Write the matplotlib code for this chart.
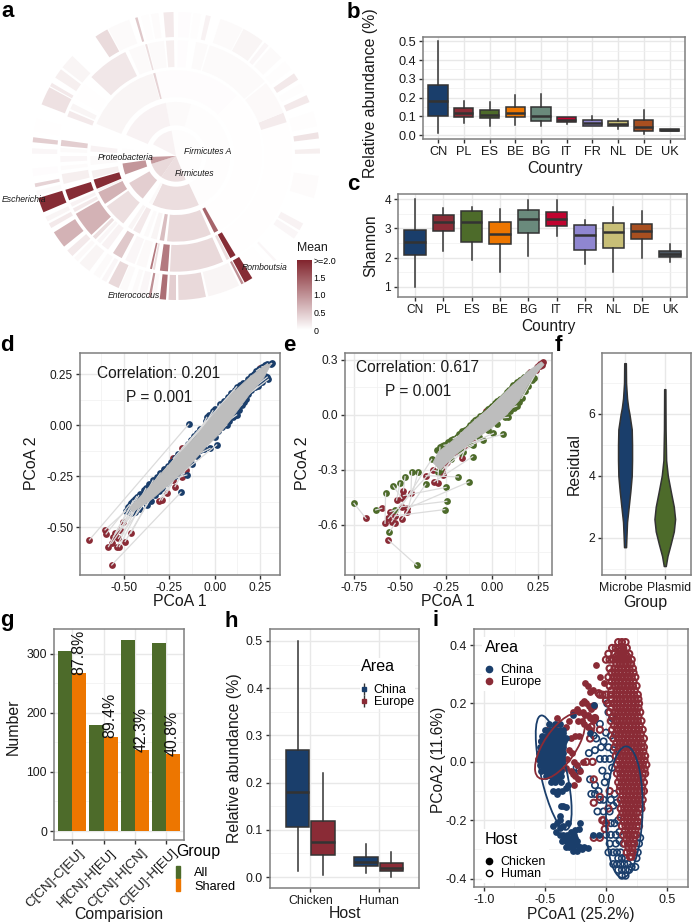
import numpy as np
import matplotlib
matplotlib.use('Agg')
import matplotlib.pyplot as plt
from matplotlib.colors import LinearSegmentedColormap
from matplotlib.lines import Line2D
from matplotlib.patches import Ellipse, Patch
from matplotlib.ticker import AutoMinorLocator
from matplotlib.transforms import ScaledTranslation

plt.rcParams['font.family'] = ['Liberation Sans', 'DejaVu Sans']
plt.rcParams['axes.unicode_minus'] = False

W, H = 692, 924
NAVY, RED, GREEN, ORANGE = '#1a3e6b', '#8a2b36', '#4d6b2a', '#ed7600'
TEAL, CRIMSON, LAV, KHAKI, RUST, SLATE = '#6a8a7c', '#c0032f', '#8f86d0', '#c8bf77', '#a84f20', '#4a5560'
DARK = '#333333'

# panel a: (start deg, end deg, mean) for each ring, counter-clockwise from east
ring_radii = [(0, 77), (92, 162), (177, 257), (267, 347), (357, 432)]
ring1 = [(-68, 100, 0.02), (-125, -68, 0.3), (-162, -125, 0.35), (-178, -162, 0.9), (100, 153, 0.12)]
ring2 = [(-65, 74, 0.02), (74, 101, 0.05), (101, 157, 0.12), (-116, -65, 0.3), (-120, -116, 0.05),
         (-150, -128, 0.45), (-172, -160, 0.95), (172, 180, 0.02)]
ring3 = [(-60, 45, 0.015), (45, 78, 0.03), (78, 104, 0.03), (104, 105.5, 0.4), (106, 158, 0.1),
         (-63.5, -60.5, 1.4), (-96, -66, 0.35), (-101, -98, 0.6), (-107, -103, 0.1), (-112, -109, 0.05),
         (-120, -115, 0.2), (-124, -121, 0.1), (-144, -128, 0.3), (-155, -146, 0.7), (-157, -155.5, 0.1),
         (-164, -157.5, 1.9), (-170, -165, 0.15), (173, 177, 0.12), (-180, -174, 0.05)]
ring4 = [(-42, 17, 0.015), (17, 22, 0.18), (22, 39, 0.06), (40, 73, 0.05), (74, 80, 0.05), (84, 89, 0.03),
         (91, 95, 0.15), (96, 104, 0.05), (104.5, 105.5, 0.3), (106, 114, 0.05), (116, 137, 0.22),
         (142, 150, 0.01), (153, 156, 0.1), (157, 160, 0.2), (172, 175, 0.45), (176, 178, 0.05),
         (180, 183, 0.08), (-59, -42, 0.01), (-62, -59, 1.9), (-64, -62.5, 0.3), (-93, -66, 0.35),
         (-98, -94, 1.2), (-101.5, -100.5, 0.3), (-103, -102, 1.2), (-110, -105, 0.06), (-116, -111, 0.08),
         (-123, -118, 0.5), (-130, -126, 0.12), (-133, -131, 0.08), (-136, -134, 0.3), (-150, -137, 0.7),
         (-153, -151, 0.2), (-156, -154, 0.12), (-163, -157.5, 1.9), (-171, -166, 0.15), (-175, -173, 0.04)]
ring5 = [(1, 3, 0.15), (7, 9.5, 0.25), (12, 18, 0.02), (22, 25, 0.2), (27, 30, 0.02), (32, 35, 0.2), (37, 41, 0.02),
         (43, 49, 0.05), (50, 52, 0.08), (53, 62, 0.1), (62.5, 72, 0.05), (76, 78, 0.12), (80, 83, 0.02),
         (84, 89, 0.03), (91, 95, 0.2), (97, 100, 0.04), (101, 104, 0.02), (105.5, 106.5, 0.5), (109, 118, 0.05),
         (118.5, 124, 0.33), (136, 142, 0.1), (143, 147, 0.15), (149.5, 151, 0.2), (151.5, 159, 0.28),
         (165, 170, 0.01), (172.5, 174.5, 0.45), (177, 179, 0.05), (-183, -181, 0.08), (-17, -8, 0.04),
         (-31, -28, 0.12), (-35, -32, 0.08), (-47, -46, 0.08), (-58, -50, 0.008), (-61.5, -58, 1.9),
         (-63, -62, 1.0), (-77, -64, 0.1), (-89, -78, 0.35), (-93, -90, 0.45), (-96.5, -94, 1.3),
         (-99.5, -98, 0.06), (-101, -100, 1.0), (-105, -102, 0.08), (-108, -106, 0.05), (-113, -110, 0.05),
         (-118, -113.5, 0.35), (-121, -119, 0.08), (-125, -122, 0.05), (-132, -127, 0.1), (-135, -133, 0.06),
         (-139, -136, 0.2), (-148, -141, 0.7), (-152, -150, 0.2), (-155, -153, 0.1), (-163, -157, 1.9),
         (-166, -164, 0.05), (-169, -167.5, 0.4), (-175, -172, 0.03)]
rings = [ring1, ring2, ring3, ring4, ring5]
sun_labels = ['Firmicutes A', 'Proteobacteria', 'Firmicutes', 'Escherichia', 'Romboutsia', 'Enterococcus']
sun_label_px = [(208, 151), (126, 157), (195, 174), (24, 200), (265, 267), (134, 296)]

# panels b and c: whisker low, q1, median, q3, whisker high
countries = ['CN', 'PL', 'ES', 'BE', 'BG', 'IT', 'FR', 'NL', 'DE', 'UK']
country_cols = [NAVY, RED, GREEN, ORANGE, TEAL, CRIMSON, LAV, KHAKI, RUST, SLATE]
abund_lo = [.01, .065, .05, .055, .05, .06, .05, .035, .005, .024]
abund_q1 = [.103, .095, .09, .098, .078, .07, .052, .048, .025, .024]
abund_med = [.18, .12, .11, .12, .1, .083, .066, .062, .045, .03]
abund_q3 = [.27, .145, .132, .15, .148, .095, .08, .075, .08, .036]
abund_hi = [.5, .185, .178, .213, .217, .097, .105, .085, .137, .036]
shan_lo = [1.0, 2.23, 1.9, 1.5, 2.05, 2.75, 1.77, 1.5, 2.0, 1.85]
shan_q1 = [2.09, 2.92, 2.52, 2.47, 2.83, 3.08, 2.25, 2.32, 2.64, 2.03]
shan_med = [2.55, 3.23, 3.22, 2.82, 3.33, 3.33, 2.78, 2.87, 2.9, 2.12]
shan_q3 = [2.93, 3.46, 3.6, 3.23, 3.62, 3.55, 3.13, 3.18, 3.16, 2.24]
shan_hi = [4.0, 3.7, 3.72, 3.66, 3.97, 3.97, 3.3, 3.72, 3.58, 2.47]

# panel d: procrustes pairs, same index is one sample
d_blue = [(-.143, .005), (-.186, -.329), (.011, -.097), (-.49, -.42), (-.47, -.39), (-.45, -.37), (-.43, -.35),
          (-.42, -.345), (-.38, -.31), (-.34, -.27), (-.30, -.235), (-.26, -.20), (-.22, -.16), (-.17, -.115),
          (-.13, -.075), (-.10, -.04), (-.05, .02), (-.044, .038), (-.01, .07), (.029, .103), (.075, .139),
          (.11, .17), (.121, .188), (.173, .204), (.20, .24), (.23, .265), (.26, .285), (.29, .30), (.31, .30),
          (-.46, -.43), (-.375, -.391), (-.33, -.34), (-.29, -.31), (-.22, -.25), (-.154, -.244), (-.10, -.15),
          (-.081, -.122), (-.026, -.114), (.02, -.03), (.066, 0), (.10, .04), (.121, .05), (.15, .10), (.17, .13),
          (.20, .17), (.24, .19), (.296, .224), (.29, .235), (.314, .302)]
d_red = [(-.691, -.562), (-.568, -.685), (-.16, -.22), (-.605, -.513), (-.599, -.533), (-.586, -.595), (-.55, -.53),
         (-.522, -.513), (-.54, -.595), (-.526, -.595), (-.568, -.579), (-.463, -.53), (-.494, -.57), (-.559, -.546),
         (-.531, -.554), (-.504, -.473), (-.292, -.367), (-.265, -.334), (-.305, -.37), (-.219, -.301), (-.182, -.252),
         (-.283, -.228), (-.228, -.163), (-.182, -.114), (.10, .10), (.25, .278), (.278, .289), (-.228, -.269), (.12, .12),
         (-.44, -.39), (-.42, -.37), (-.40, -.35), (-.38, -.34), (-.35, -.30), (-.33, -.29), (-.30, -.26), (-.27, -.24),
         (-.25, -.21), (-.22, -.19), (-.20, -.17), (-.17, -.14), (-.14, -.11), (-.11, -.08), (-.08, -.05), (-.05, -.03),
         (-.02, .01), (.02, .04), (.05, .07), (.09, .10)]
d_blue_edge = [(-.48, -.40), (-.46, -.38), (-.44, -.36), (-.41, -.335), (-.39, -.32), (-.36, -.29), (-.32, -.255),
               (-.28, -.215), (-.24, -.18), (-.20, -.14), (-.15, -.095), (-.115, -.055), (-.08, -.02), (-.03, .05),
               (0, .08), (.05, .12), (.09, .155), (.14, .195), (.155, .205), (.185, .225), (.215, .25), (.245, .275),
               (.275, .295), (-.44, -.425), (-.41, -.41), (-.35, -.37), (-.31, -.325), (-.26, -.285), (-.19, -.235),
               (-.125, -.19), (-.06, -.115), (0, -.06), (.04, -.01), (.08, .02), (.11, .05), (.135, .075), (.16, .115),
               (.185, .15), (.22, .185), (.26, .21), (.28, .24)]
d_band = [(-.47, -.405), (-.40, -.34), (-.30, -.24), (-.20, -.145), (-.10, -.05), (0, .06), (.10, .16), (.20, .24),
          (.28, .295), (.31, .30), (.30, .28), (.27, .23), (.20, .16), (.10, .04), (.03, -.04), (-.05, -.11),
          (-.15, -.21), (-.25, -.29), (-.35, -.365), (-.45, -.425)]

# panel e
e_green = [(-.75, -.482), (-.632, -.518), (-.578, -.427), (-.558, -.64), (-.409, -.82), (-.536, -.387), (-.50, -.369),
           (-.472, -.336), (-.436, -.309), (-.40, -.309), (-.525, -.518), (-.36, -.378), (-.327, -.242), (-.249, -.395),
           (-.245, -.471), (-.256, -.516), (-.182, -.338), (-.124, -.365), (-.104, -.227), (-.282, -.176), (-.236, -.155),
           (-.191, -.118), (-.146, -.082), (-.091, -.027), (-.037, .013), (.018, .064), (.072, .109), (.118, .164),
           (.163, .195), (.217, .191), (.063, -.104), (.009, -.10), (-.046, -.136), (.09, -.013), (.136, .049), (.163, .091),
           (-.1, -.164), (-.155, -.20), (-.291, -.309), (-.26, -.165), (-.21, -.13), (-.17, -.10), (-.12, -.055),
           (-.065, -.005), (-.01, .04), (.045, .085), (.095, .135), (.14, .18), (.19, .215)]
e_red = [(-.685, -.564), (-.599, -.509), (-.581, -.591), (-.526, -.591), (-.563, -.682), (-.49, -.455), (-.518, -.464),
         (-.481, -.413), (-.44, -.427), (-.46, -.527), (-.554, -.527), (-.49, -.569), (-.545, -.582), (-.481, -.44),
         (-.49, -.50), (-.526, -.55), (-.358, -.331), (-.46, -.51), (-.314, -.364), (-.295, -.369), (-.282, -.273),
         (-.245, -.255), (-.264, -.327), (-.164, -.236), (-.563, -.564), (-.13, -.08), (-.08, -.03), (-.03, .02),
         (.208, .236), (.245, .26), (-.10, -.15), (-.15, -.17), (-.2, -.2), (.01, -.02), (.05, .02), (.272, .282),
         (-.25, -.26), (-.27, -.3), (-.32, -.30), (-.2, -.16), (-.15, -.1), (-.1, -.07), (-.05, -.02), (0, .03),
         (.05, .06), (.1, .11), (.15, .14), (.18, .18), (.22, .22)]
e_green_edge = [(-.30, -.19), (-.27, -.17), (-.24, -.145), (-.22, -.135), (-.18, -.105), (-.16, -.09), (-.13, -.07),
                (-.10, -.04), (-.08, -.02), (-.05, 0), (-.02, .03), (0, .05), (.03, .075), (.06, .10), (.085, .125),
                (.11, .15), (.13, .17), (.155, .19), (.175, .205), (.20, .225), (-.28, -.30), (-.22, -.24),
                (-.17, -.205), (-.12, -.16), (-.07, -.12), (-.02, -.08), (.03, -.05), (.07, -.01), (.10, .02),
                (.12, .04), (.15, .07), (.18, .13), (.2, .16), (.23, .2)]
e_red_edge = [(.25, .265), (.265, .28), (.28, .29), (.275, .275), (.26, .265), (.24, .245)]
e_band = [(-.29, -.20), (-.20, -.13), (-.10, -.035), (0, .05), (.10, .15), (.20, .24), (.27, .29), (.285, .275), (.22, .20),
          (.15, .08), (.08, 0), (0, -.07), (-.10, -.14), (-.20, -.22), (-.28, -.30), (-.32, -.26)]

# panel f: violin outlines
groups = ['Microbe', 'Plasmid']
mic_y = [1.69, 2, 2.5, 3, 3.5, 4, 4.5, 5, 5.5, 6, 6.2, 6.5, 7, 7.64]
mic_w = [.025, .034, .05, .092, .134, .168, .176, .176, .168, .11, .08, .05, .025, .02]
pla_y = [1.08, 1.4, 1.8, 2.2, 2.6, 3, 3.5, 4, 4.5, 5.5, 6.8]
pla_w = [.025, .067, .15, .227, .26, .227, .15, .076, .034, .02, .015]

# panel g
comparisons = ['C[CN]-C[EU]', 'H[CN]-H[EU]', 'C[CN]-H[CN]', 'C[EU]-H[EU]']
all_counts = [304, 180, 324, 319]
shared_counts = [267, 160, 137, 130]
shared_pct = ['87.8%', '89.4%', '42.3%', '40.8%']

# panel h
hosts = ['Chicken', 'Human']
china_box = [[.012, .105, .18, .27, .5], [.008, .023, .031, .043, .07]]
europe_box = [[.005, .046, .074, .119, .22], [.001, .012, .02, .03, .053]]

# panel i
china_chicken = [(-.47, .13), (-.42, .13), (-.38, .13), (-.50, .11), (-.46, .11), (-.42, .11), (-.38, .11), (-.35, .11),
                 (-.52, .09), (-.48, .09), (-.44, .09), (-.40, .09), (-.36, .09), (-.53, .07), (-.49, .07), (-.45, .07),
                 (-.41, .07), (-.37, .07), (-.34, .07), (-.54, .05), (-.50, .05), (-.46, .05), (-.42, .05), (-.38, .05),
                 (-.35, .05), (-.55, .03), (-.51, .03), (-.47, .03), (-.43, .03), (-.39, .03), (-.35, .03), (-.55, .01),
                 (-.51, .01), (-.47, .01), (-.43, .01), (-.39, .01), (-.36, .01), (-.54, -.01), (-.50, -.01), (-.46, -.01),
                 (-.42, -.01), (-.38, -.01), (-.53, -.03), (-.49, -.03), (-.45, -.03), (-.41, -.03), (-.37, -.03),
                 (-.49, -.05), (-.45, -.05), (-.41, -.05), (-.37, -.05), (-.45, -.07), (-.42, -.07), (-.37, -.07),
                 (-.52, .02), (-.48, .02), (-.44, .02), (-.40, .02), (-.36, .02), (-.52, .04), (-.48, .04), (-.44, .04),
                 (-.40, .04), (-.36, .04), (-.51, .06), (-.47, .06), (-.43, .06), (-.39, .06), (-.35, .06), (-.49, .08),
                 (-.45, .08), (-.41, .08), (-.37, .08), (-.33, .08), (-.47, .10), (-.43, .10), (-.39, .10), (-.35, .10),
                 (-.52, 0), (-.48, 0), (-.44, 0), (-.40, 0), (-.36, 0), (-.51, -.02), (-.47, -.02), (-.43, -.02), (-.39, -.02),
                 (-.47, -.04), (-.43, -.04), (-.39, -.04), (-.43, -.06), (-.39, -.06),
                 (-.43, -.10), (-.39, -.10), (-.36, -.10), (-.33, -.09), (-.40, -.11), (-.31, -.08), (-.37, -.15),
                 (-.35, -.15), (-.33, -.155), (-.38, -.185), (-.38, -.2), (-.43, -.22), (-.40, -.21), (-.38, -.225),
                 (-.35, -.22), (-.31, -.21), (-.21, -.21), (-.22, -.23), (-.25, -.235), (-.41, -.24), (-.38, -.25),
                 (-.35, -.25), (-.32, -.25), (-.29, -.24), (-.26, -.25), (-.36, -.27), (-.33, -.27), (-.30, -.27),
                 (-.27, -.27), (-.24, -.27), (-.33, -.29), (-.30, -.29), (-.27, -.29), (-.24, -.285), (-.21, -.29),
                 (-.18, -.29), (-.15, -.295), (-.27, -.305), (-.24, -.305), (-.20, -.30), (-.11, -.25), (-.06, -.25),
                 (-.34, -.26), (-.31, -.26), (-.28, -.26), (-.25, -.26), (-.31, -.28), (-.28, -.28), (-.25, -.28),
                 (-.27, .16), (-.1, .195), (-.13, .10)]
europe_chicken = [(-.08, .33), (-.05, .29), (-.17, .27), (-.15, .26), (-.13, .24), (-.11, .245), (-.02, .27), (-.2, .2),
                  (-.18, .21), (-.16, .2), (-.14, .19), (-.12, .18), (-.24, .18), (-.22, .17), (-.19, .17), (-.17, .16),
                  (-.15, .16), (-.13, .15), (-.11, .14), (-.09, .15), (-.23, .14), (-.20, .14), (-.18, .13), (-.15, .12),
                  (-.12, .11), (-.27, .17), (-.3, .14), (-.33, .12), (-.4, .15), (-.42, .12), (-.48, .11), (-.5, .08),
                  (-.53, .07), (-.51, .05), (-.56, .01), (-.29, .08), (-.25, .09), (-.22, .09), (-.3, .04), (-.28, .03),
                  (-.32, .01), (-.26, 0), (-.24, -.01), (-.19, 0), (-.21, -.03), (-.29, -.03), (-.27, -.04), (-.23, -.06),
                  (-.26, -.08), (-.33, -.02), (-.25, -.05)]
china_human = [(.13, -.39), (.16, -.39), (.10, -.37), (.13, -.37), (.16, -.37), (.19, -.37), (.06, -.35), (.09, -.35),
               (.12, -.35), (.15, -.35), (.18, -.35), (.21, -.36), (.24, -.36), (.10, -.33), (.13, -.33), (.16, -.33),
               (.06, -.31), (.02, -.31), (.09, -.31), (.12, -.31), (.03, -.28), (.08, -.28), (.11, -.27), (.14, -.28),
               (0, -.25), (.04, -.25), (.08, -.25), (.11, -.24), (.27, -.28), (.28, -.26), (.26, -.31), (.25, -.33),
               (.04, -.21), (.07, -.21), (.10, -.20), (.03, -.17), (.06, -.15), (.09, -.14), (.04, -.13), (.07, -.11),
               (-.02, -.13), (-.06, -.1), (-.09, -.08), (-.01, -.07), (.01, -.05), (-.03, -.03), (-.05, .01), (-.01, .01),
               (.03, .01), (-.04, .05), (-.02, .07), (.02, .05), (.05, -.02), (.06, .04), (.04, .09), (0, .1), (-.1, .09),
               (-.08, .08), (-.14, .03), (-.09, .04), (-.24, -.02), (-.22, -.03), (-.13, -.06), (-.12, -.11), (-.09, -.11),
               (-.05, -.13), (-.07, -.17), (-.02, -.17), (-.05, .13), (.02, .17), (.01, .2), (.05, .15)]
eu_human_row_y = [.41, .39, .37, .35, .32, .29, .26, .23, .20, .17, .14, .11, .08, .05, .02, -.01, -.04, -.07, -.10,
                  -.13, -.16, -.19, -.22, -.25, -.28, -.31]
eu_human_row_x = [[.10, .13, .16], [.05, .08, .11, .14, .17], [.02, .07, .10, .13, .16, .19], [0, .03, .06, .09, .12, .15, .18, .21],
                  [.03, .07, .10, .13, .16, .19, .22], [.02, .06, .09, .12, .15, .18, .21, .24],
                  [.03, .07, .10, .13, .16, .19, .22, .25], [-.05, 0, .04, .08, .11, .14, .17, .20, .23, .26],
                  [.02, .06, .09, .12, .15, .18, .21, .24, .27], [.03, .07, .10, .13, .16, .19, .22, .25, .28],
                  [.04, .08, .11, .14, .17, .20, .23, .26, .29], [.05, .09, .12, .15, .18, .21, .24, .27, .30],
                  [.06, .10, .13, .16, .19, .22, .25, .28, .31], [.07, .11, .14, .17, .20, .23, .26, .29, .31],
                  [.08, .11, .14, .17, .20, .23, .26, .29, .32], [.09, .12, .15, .18, .21, .24, .27, .30, .33],
                  [.09, .12, .15, .18, .21, .24, .27, .30, .32], [.10, .13, .16, .19, .22, .25, .28, .31],
                  [.11, .14, .17, .20, .23, .26, .29, .31], [.12, .15, .18, .21, .24, .27, .30],
                  [.12, .15, .18, .21, .24, .27, .29], [.12, .15, .18, .21, .24, .27], [.13, .16, .19, .22, .25, .27],
                  [.14, .17, .20, .23, .25], [.15, .18, .21, .23], [.17, .20, .22]]
# second, staggered set of rows in the dense core
eu_core_row_y = [.38, .36, .335, .305, .275, .245, .215, .185, .155, .125, .095, .065, .035, .005, -.025, -.055, -.085,
                 -.115, -.145, -.175, -.205, -.235, -.265, -.295, -.325]
eu_core_row_x = [[.115, .145], [.085, .115, .145, .175], [.085, .115, .145, .175, .205], [.045, .075, .105, .135, .165, .195, .225],
                 [.045, .075, .105, .135, .165, .195, .225], [.045, .085, .115, .145, .175, .205, .235],
                 [.045, .085, .115, .145, .175, .205, .235, .265], [.045, .085, .115, .145, .175, .205, .235, .265],
                 [.055, .085, .115, .145, .175, .205, .235, .265], [.065, .095, .125, .155, .185, .215, .245, .275],
                 [.075, .105, .135, .165, .195, .225, .255, .285], [.085, .115, .145, .175, .205, .235, .265, .295],
                 [.095, .125, .155, .185, .215, .245, .275, .305], [.105, .135, .165, .195, .225, .255, .285, .315],
                 [.105, .135, .165, .195, .225, .255, .285, .315], [.115, .145, .175, .205, .235, .265, .295],
                 [.115, .145, .175, .205, .235, .265, .295], [.135, .165, .195, .225, .255, .285],
                 [.135, .165, .195, .225, .255, .285], [.135, .165, .195, .225, .255], [.145, .175, .205, .235, .26],
                 [.155, .185, .215, .24], [.165, .195, .225], [.185, .215], [.195, .21]]
eu_human_extra = [(-.06, .235), (-.03, .23), (0, .21), (-.1, .19), (-.09, .15), (-.05, .11), (-.12, .12), (-.13, .08),
                  (-.16, 0), (-.11, 0), (-.1, -.06), (-.05, -.12), (-.1, -.14), (-.02, -.2), (-.03, -.2), (-.01, -.23),
                  (-.1, -.26), (-.05, -.26), (0, -.21), (.03, -.1), (.02, -.16)]
# ellipse centre x, y, half extent x, y, correlation, colour
ellipses = [(-.428, -.037, .147, .196, -.667, NAVY), (-.376, .054, .205, .113, .667, RED), (.15, -.172, .15, .225, .1, NAVY)]


def px_axes(l, t, r, b, **kw):
    return fig.add_axes([l / W, 1 - b / H, (r - l) / W, (b - t) / H], **kw)


def theme(ax, xt, xl, yt, yl, size=9, minor_x=True):
    ax.set_xticks(xt, xl, fontsize=size, color='#1a1a1a')
    ax.set_yticks(yt, yl, fontsize=size, color='#1a1a1a')
    ax.yaxis.set_minor_locator(AutoMinorLocator(2))
    if minor_x:
        ax.xaxis.set_minor_locator(AutoMinorLocator(2))
    ax.grid(True, which='major', color='#e8e8e8', lw=1)
    ax.grid(True, which='minor', color='#f0f0f0', lw=.5)
    ax.tick_params(which='minor', length=0)
    ax.tick_params(which='major', length=3, width=1, color=DARK, pad=2)
    ax.set_axisbelow(True)
    for s in ax.spines.values():
        s.set_color('#7f7f7f')
        s.set_linewidth(1.1)


def labels(ax, xlab, xpos, ylab, ypos, size=11.4):
    ax.set_xlabel(xlab, fontsize=size, va='center', ha='center', color='#1a1a1a')
    ax.xaxis.set_label_coords(xpos[0] / W, 1 - xpos[1] / H, transform=fig.transFigure)
    ax.set_ylabel(ylab, fontsize=size, va='center', ha='center', color='#1a1a1a')
    ax.yaxis.set_label_coords(ypos[0] / W, 1 - ypos[1] / H, transform=fig.transFigure)


def boxes(ax, rows, positions, width, cols):
    stats = [dict(whislo=r[0], q1=r[1], med=r[2], q3=r[3], whishi=r[4], fliers=[]) for r in rows]
    art = ax.bxp(stats, positions=positions, widths=width, patch_artist=True, showcaps=False, showfliers=False,
                 manage_ticks=False, boxprops=dict(edgecolor=DARK, lw=1.1),
                 medianprops=dict(color=DARK, lw=1.8, solid_capstyle='butt'), whiskerprops=dict(color=DARK, lw=1.1))
    for b, c in zip(art['boxes'], cols):
        b.set_facecolor(c)


def xy(pairs):
    return [p[0] for p in pairs], [p[1] for p in pairs]


def pcoa(ax, band, first, second, c1, c2):
    for a, b in zip(first, second):
        ax.plot([a[0], b[0]], [a[1], b[1]], color='#dcdcdc', lw=.9, zorder=4)
    ax.scatter(*xy(second), s=24, color=c2, zorder=2, lw=0)
    ax.scatter(*xy(first), s=24, color=c1, zorder=3, lw=0)
    ax.fill(*xy(band), color='#bdbdbd', lw=.5, zorder=5)


def shift_px(t, dx):
    t.set_transform(t.get_transform() + ScaledTranslation(dx / 100, 0, fig.dpi_scale_trans))


fig = plt.figure(figsize=(W / 100, H / 100), dpi=100)

# a
cmap = LinearSegmentedColormap.from_list('mean', ['#ffffff', '#80222b'])
ax = px_axes(31, 11, 321, 301, projection='polar')
for radii, ring in zip(ring_radii, rings):
    for start, end, val in ring:
        ax.bar(np.radians(start), radii[1] - radii[0], width=np.radians(end - start), bottom=radii[0], align='edge',
               color=cmap(val / 2), lw=0)
ax.set_rlim(0, 435)
ax.axis('off')
for name, pos in zip(sun_labels, sun_label_px):
    fig.text(pos[0] / W, 1 - pos[1] / H, name, fontsize=6.2, style='italic', ha='center', va='center', color='#1a1a1a')
cax = px_axes(297, 260, 312, 330)
cax.imshow(np.linspace(1, 0, 200).reshape(-1, 1), cmap=cmap, aspect='auto', extent=[0, 1, 0, 2], vmin=0, vmax=1)
cax.set_xticks([])
cax.yaxis.tick_right()
cax.set_yticks([0, .5, 1, 1.5, 2], ['0', '0.5', '1.0', '1.5', '>=2.0'], fontsize=6.4)
cax.tick_params(length=0, pad=1)
for s in cax.spines.values():
    s.set_visible(False)
fig.text(297 / W, 1 - 248 / H, 'Mean', fontsize=8.8, va='center', color='#1a1a1a')

# b
ax = px_axes(422.7, 37, 685, 139)
boxes(ax, list(zip(abund_lo, abund_q1, abund_med, abund_q3, abund_hi)), range(1, 11), .75, country_cols)
ax.set_xlim(.4, 10.6)
ax.set_ylim(-.0197, .5228)
theme(ax, range(1, 11), countries, [0, .1, .2, .3, .4, .5], ['0.0', '0.1', '0.2', '0.3', '0.4', '0.5'], 9.2, False)
labels(ax, 'Country', (555, 169), 'Relative abundance (%)', (370.7, 93))

# c
ax = px_axes(398, 194, 687, 297)
boxes(ax, list(zip(shan_lo, shan_q1, shan_med, shan_q3, shan_hi)), range(1, 11), .75, country_cols)
ax.set_xlim(.4, 10.6)
ax.set_ylim(.646, 4.18)
theme(ax, range(1, 11), countries, [1, 2, 3, 4], ['1', '2', '3', '4'], 8.6, False)
labels(ax, 'Country', (548, 326), 'Shannon', (371, 245.7), 11.2)

# d
ax = px_axes(80, 353, 280, 575)
pcoa(ax, d_band, d_blue, d_red, NAVY, RED)
ax.scatter(*xy(d_blue_edge), s=24, color=NAVY, zorder=3, lw=0)
ax.set_xlim(-.743, .36)
ax.set_ylim(-.734, .353)
theme(ax, [-.5, -.25, 0, .25], ['-0.50', '-0.25', '0.00', '0.25'], [-.5, -.25, 0, .25], ['-0.50', '-0.25', '0.00', '0.25'], 8.6)
labels(ax, 'PCoA 1', (180, 602), 'PCoA 2', (31.7, 463))
fig.text(159 / W, 1 - 373 / H, 'Correlation: 0.201', fontsize=11.2, ha='center', va='center', color='#1a1a1a')
fig.text(159 / W, 1 - 397 / H, 'P = 0.001', fontsize=11.2, ha='center', va='center', color='#1a1a1a')

# e
ax = px_axes(345, 353, 552, 575)
pcoa(ax, e_band, e_green, e_red, GREEN, RED)
ax.scatter(*xy(e_green_edge), s=24, color=GREEN, zorder=3, lw=0)
ax.scatter(*xy(e_red_edge), s=24, color=RED, zorder=3, lw=0)
ax.set_xlim(-.799, .328)
ax.set_ylim(-.873, .338)
theme(ax, [-.75, -.5, -.25, 0, .25], ['-0.75', '-0.50', '-0.25', '0.00', '0.25'], [-.6, -.3, 0, .3], ['-0.6', '-0.3', '0.0', '0.3'], 8.6)
labels(ax, 'PCoA 1', (448, 602), 'PCoA 2', (302.7, 463))
fig.text(418 / W, 1 - 368 / H, 'Correlation: 0.617', fontsize=11.2, ha='center', va='center', color='#1a1a1a')
fig.text(418 / W, 1 - 391 / H, 'P = 0.001', fontsize=11.2, ha='center', va='center', color='#1a1a1a')

# f
ax = px_axes(602, 353, 691, 575)
mic_w, pla_w = np.array(mic_w), np.array(pla_w)
ax.fill_betweenx(mic_y, 1 - mic_w, 1 + mic_w, color=NAVY, ec=DARK, lw=1.1)
ax.fill_betweenx(pla_y, 2 - pla_w, 2 + pla_w, color=GREEN, ec=DARK, lw=1.1)
ax.set_xlim(.42, 2.66)
ax.set_ylim(.79, 7.97)
theme(ax, [1, 2], groups, [2, 4, 6], ['2', '4', '6'], 8.8, False)
shift_px(ax.get_xticklabels()[0], -4.3)
shift_px(ax.get_xticklabels()[1], 4.7)
labels(ax, 'Group', (645, 603), 'Residual', (574, 464))

# g
ax = px_axes(54, 629, 184, 840)
pos = np.arange(1, 5)
ax.bar(pos - .225, all_counts, .45, color=GREEN, label='All')
ax.bar(pos + .225, shared_counts, .45, color=ORANGE, label='Shared')
for p, v, t in zip(pos, shared_counts, shared_pct):
    ax.text(p + .21, v - 3, t, rotation=90, ha='center', va='bottom', fontsize=11.4, color='#111111', clip_on=False)
ax.set_xlim(.413, 4.577)
ax.set_ylim(-15.2, 342)
theme(ax, pos, comparisons, [0, 100, 200, 300], ['0', '100', '200', '300'], 8.8, False)
for t in ax.get_xticklabels():
    t.set(rotation=45, ha='right', va='top', rotation_mode='anchor', fontsize=9.6)
    shift_px(t, 6)
labels(ax, 'Comparision', (119, 914), 'Number', (13, 727))
leg = ax.legend(handles=[Patch(color=GREEN, label='All'), Patch(color=ORANGE, label='Shared')], title='Group', title_fontsize=11.4,
                fontsize=9.2, loc='upper left', bbox_to_anchor=(176 / W, 1 - 844 / H), bbox_transform=fig.transFigure,
                frameon=False, alignment='left', borderpad=0, borderaxespad=0, handlelength=.32, handleheight=1.05,
                handletextpad=1.1, labelspacing=0)
leg._legend_box.sep = 5

# h
ax = px_axes(270, 629, 419, 888)
boxes(ax, china_box, [.8125, 1.8125], .35, [NAVY, NAVY])
boxes(ax, europe_box, [1.1875, 2.1875], .35, [RED, RED])
ax.set_xlim(.41, 2.59)
ax.set_ylim(-.0233, .5254)
theme(ax, [1, 2], hosts, [0, .1, .2, .3, .4, .5], ['0.0', '0.1', '0.2', '0.3', '0.4', '0.5'], 8.9, False)
labels(ax, 'Host', (345, 913), 'Relative abundance (%)', (235, 758))
keys = [(Line2D([], [], marker='|', ms=9, color=DARK, ls=''), Line2D([], [], marker='s', ms=3.5, color=c, ls='')) for c in (NAVY, RED)]
leg = ax.legend(keys, ['China', 'Europe'], title='Area', title_fontsize=11.6, fontsize=9, loc='upper left',
                bbox_to_anchor=(360 / W, 1 - 658 / H), bbox_transform=fig.transFigure, alignment='left', borderpad=.1,
                borderaxespad=0, handlelength=.5, handletextpad=.5, labelspacing=0, framealpha=1, edgecolor='none', fancybox=False)
leg._legend_box.sep = 7

# i
ax = px_axes(474, 629, 688, 887)
eu_x = [x for row in eu_human_row_x + eu_core_row_x for x in row] + xy(eu_human_extra)[0]
eu_y = [y for y, row in zip(eu_human_row_y + eu_core_row_y, eu_human_row_x + eu_core_row_x) for _ in row] + xy(eu_human_extra)[1]
ax.scatter(*xy(china_human), s=21, facecolors='none', edgecolors=NAVY, lw=1.2)
ax.scatter(eu_x, eu_y, s=20, facecolors='none', edgecolors=RED, lw=1.5)
ax.scatter(*xy(europe_chicken), s=24, color=RED, lw=0)
ax.scatter(*xy(china_chicken), s=24, color=NAVY, lw=0)
for cx, cy, sx, sy, rho, col in ellipses:
    vals, vecs = np.linalg.eigh([[sx * sx, rho * sx * sy], [rho * sx * sy, sy * sy]])
    ax.add_patch(Ellipse((cx, cy), 2 * np.sqrt(vals[1]), 2 * np.sqrt(vals[0]), fill=False, ec=col, lw=1.3,
                         angle=np.degrees(np.arctan2(vecs[1, 1], vecs[0, 1]))))
ax.set_xlim(-1.08, .671)
ax.set_ylim(-.4286, .455)
theme(ax, [-1, -.5, 0, .5], ['-1.0', '-0.5', '0.0', '0.5'], [-.4, -.2, 0, .2, .4], ['-0.4', '-0.2', '0.0', '0.2', '0.4'], 9)
labels(ax, 'PCoA1 (25.2%)', (581, 915), 'PCoA2 (11.6%)', (438, 760), 11.2)
area = [Line2D([], [], marker='o', ms=4.5, color=c, ls='') for c in (NAVY, RED)]
leg = ax.legend(area, ['China', 'Europe'], title='Area', title_fontsize=11.6, fontsize=9, loc='upper left',
                bbox_to_anchor=(482 / W, 1 - 637 / H), bbox_transform=fig.transFigure, alignment='left', borderpad=.2,
                borderaxespad=0, handlelength=.7, handletextpad=.6, labelspacing=0, framealpha=1, edgecolor='none', fancybox=False)
leg._legend_box.sep = 7
ax.add_artist(leg)
host = [Line2D([], [], marker='o', ms=4.5, color='black', ls=''),
        Line2D([], [], marker='o', ms=4.5, mfc='none', mec='black', ls='')]
leg = ax.legend(host, ['Chicken', 'Human'], title='Host', title_fontsize=11.6, fontsize=9, loc='upper left',
                bbox_to_anchor=(482 / W, 1 - 829 / H), bbox_transform=fig.transFigure, alignment='left', borderpad=.2,
                borderaxespad=0, handlelength=.7, handletextpad=.6, labelspacing=0, framealpha=1, edgecolor='none', fancybox=False)
leg._legend_box.sep = 7

# panel letters
for letter, x, y in [('a', 1, 17), ('b', 347, 18), ('c', 347, 190), ('d', 0, 351), ('e', 283, 351), ('f', 555, 351),
                     ('g', 0, 626), ('h', 224, 627), ('i', 432, 626)]:
    fig.text(x / W, 1 - y / H, letter, fontsize=16, fontweight='bold', va='baseline', color='black')

fig.savefig('out.png', dpi=100)
